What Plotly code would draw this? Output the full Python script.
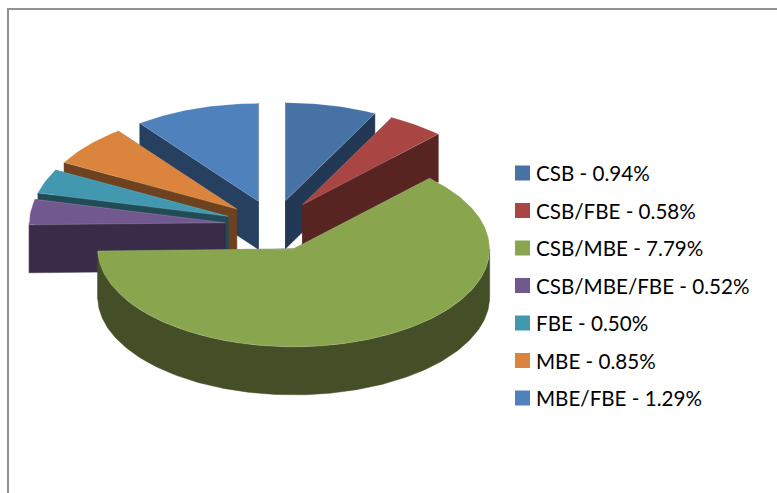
import math
import plotly.graph_objects as go

categories = ["CSB", "CSB/FBE", "CSB/MBE", "CSB/MBE/FBE", "FBE", "MBE", "MBE/FBE"]
values = [0.94, 0.58, 7.79, 0.52, 0.50, 0.85, 1.29]
top_colors = ["#4672A6", "#A94543", "#89A54E", "#71588F", "#4198AF", "#DB843D", "#4F81BD"]
wall_colors = ["#233855", "#572422", "#454F27", "#392C48", "#204C58", "#6E421E", "#284060"]
paint_order = [6, 0, 1, 5, 4, 3, 2]

W, H = 777, 493
CX, CY = 274.0, 225.5
RX, RY = 196.0, 98.0
PULL_X, PULL_Y = 49.0, 25.5
DEPTH = 48.0
LEG_X, LEG_Y0, LEG_DY = 522.5, 173.0, 37.5
LEG_TEXT_X, LEG_TEXT_DY = 534.0, 0.0


def pt(cx, cy, deg, rx=RX, ry=RY):
    a = math.radians(deg)
    return cx + rx * math.sin(a), cy - ry * math.cos(a)


def arc_degs(a0, a1, step=1.0):
    n = max(2, int(abs(a1 - a0) / step) + 1)
    return [a0 + (a1 - a0) * i / (n - 1) for i in range(n)]


total = sum(values)
starts, acc = [], 0.0
for v in values:
    starts.append(acc)
    acc += v / total * 360.0

fig = go.Figure()
for i in paint_order:
    a0 = starts[i]
    a1 = a0 + values[i] / total * 360.0
    mid = (a0 + a1) / 2
    cx, cy = pt(CX, CY, mid, PULL_X, PULL_Y)

    xs, ys = [], []
    # radial walls
    for e in (a0, a1):
        ox, oy = pt(cx, cy, e)
        xs += [cx, ox, ox, cx, cx, None]
        ys += [cy, oy, oy + DEPTH, cy + DEPTH, cy, None]
    # outer wall, front half only
    lo, hi = max(a0, 90.0), min(a1, 270.0)
    if hi > lo:
        arc = [pt(cx, cy, d) for d in arc_degs(lo, hi)]
        xs += [p[0] for p in arc] + [p[0] for p in reversed(arc)] + [arc[0][0], None]
        ys += [p[1] for p in arc] + [p[1] + DEPTH for p in reversed(arc)] + [arc[0][1], None]
    fig.add_trace(go.Scatter(x=xs, y=ys, mode="lines", fill="toself", fillcolor=wall_colors[i],
                             line=dict(color=wall_colors[i], width=0.5), hoverinfo="skip",
                             showlegend=False))

    arc = [pt(cx, cy, d) for d in arc_degs(a0, a1)]
    tx = [cx] + [p[0] for p in arc] + [cx]
    ty = [cy] + [p[1] for p in arc] + [cy]
    fig.add_trace(go.Scatter(x=tx, y=ty, mode="lines", fill="toself", fillcolor=top_colors[i],
                             line=dict(color="rgba(255,255,255,0.3)", width=0.6),
                             name=categories[i], text=f"{categories[i]} - {values[i]:.2f}%",
                             hoverinfo="text", showlegend=False))

leg_y = [LEG_Y0 + LEG_DY * i for i in range(len(categories))]
fig.add_trace(go.Scatter(
    x=[LEG_X] * len(categories), y=leg_y, mode="markers",
    marker=dict(symbol="square", size=15, color=top_colors, line=dict(width=0)),
    hoverinfo="skip", showlegend=False, cliponaxis=False,
))
annotations = [
    dict(x=LEG_TEXT_X, y=y + LEG_TEXT_DY, xref="x", yref="y", xanchor="left", yanchor="middle",
         text=f"{c} - {v:.2f}%", showarrow=False,
         font=dict(family="Lato, Carlito, sans-serif", size=20.6, color="#000000"))
    for c, v, y in zip(categories, values, leg_y)
]

line = dict(color="#919191", width=2)
fig.update_layout(
    width=W, height=H, margin=dict(l=0, r=0, t=0, b=0),
    paper_bgcolor="white", plot_bgcolor="white", showlegend=False,
    xaxis=dict(visible=False, range=[0, W], fixedrange=True),
    yaxis=dict(visible=False, range=[H, 0], fixedrange=True),
    annotations=annotations,
    shapes=[
        dict(type="line", xref="x", yref="y", x0=7, x1=W, y0=9, y1=9, line=line),
        dict(type="line", xref="x", yref="y", x0=8, x1=8, y0=8, y1=H, line=line),
    ],
)
fig.write_html("out.html", config={"displayModeBar": False},
               post_script="document.body.style.margin='0';document.documentElement.style.overflow='hidden';")
